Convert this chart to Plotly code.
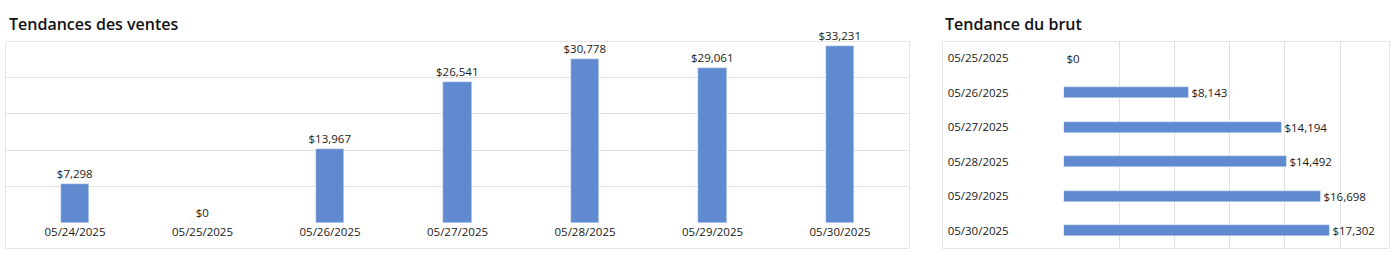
import plotly.graph_objects as go

W, H = 1392, 254

sales_dates = ["05/24/2025", "05/25/2025", "05/26/2025", "05/27/2025",
               "05/28/2025", "05/29/2025", "05/30/2025"]
sales_values = [7298, 0, 13967, 26541, 30778, 29061, 33231]

gross_dates = ["05/25/2025", "05/26/2025", "05/27/2025",
               "05/28/2025", "05/29/2025", "05/30/2025"]
gross_values = [0, 8143, 14194, 14492, 16698, 17302]

BAR = "#5f8ad0"
GRID = "#e1e1e1"
FONT = "Open Sans"
TXT = "#1a1a1a"
FS = 11.5


def px_x(p):
    return p / W


def px_y(p):
    return 1 - p / H


def money(v):
    return "${:,}".format(v)


fig = go.Figure()

fig.add_trace(go.Bar(
    x=sales_dates, y=sales_values,
    text=[money(v) for v in sales_values],
    textposition="outside", cliponaxis=False, constraintext="none",
    textfont=dict(size=FS, color=TXT, family=FONT),
    marker=dict(color=BAR), width=0.22,
    xaxis="x", yaxis="y", showlegend=False,
))

fig.add_trace(go.Bar(
    y=gross_dates, x=gross_values, orientation="h",
    text=[money(v) for v in gross_values],
    textposition="outside", cliponaxis=False, constraintext="none",
    textfont=dict(size=FS, color=TXT, family=FONT),
    marker=dict(color=BAR), width=0.32,
    xaxis="x2", yaxis="y2", showlegend=False,
))

ystep = 6830
xstep = 3594

fig.update_layout(
    width=W, height=H,
    margin=dict(l=0, r=0, t=0, b=0),
    paper_bgcolor="white", plot_bgcolor="rgba(0,0,0,0)",
    font=dict(family=FONT, size=FS, color=TXT),
    xaxis=dict(domain=[px_x(5), px_x(909)], anchor="y",
               range=[-0.549, len(sales_dates) - 1 + 0.541],
               showgrid=False, zeroline=False, showline=False,
               ticks="", tickfont=dict(size=FS, color=TXT, family=FONT),
               fixedrange=True),
    yaxis=dict(domain=[px_y(223), px_y(41)], anchor="x",
               range=[0, ystep * 5], tickvals=[ystep * i for i in range(5)],
               showticklabels=False, showgrid=True, gridcolor=GRID,
               gridwidth=1, zeroline=False, showline=False),
    xaxis2=dict(domain=[px_x(1063.7), px_x(1389)], anchor="y2",
                range=[0, 21140], tickvals=[xstep * i for i in range(6)],
                showticklabels=False, showgrid=True, gridcolor=GRID,
                gridwidth=1, zeroline=False, showline=False),
    yaxis2=dict(domain=[px_y(248), px_y(41)], anchor="x2",
                autorange="reversed", showgrid=False, zeroline=False,
                showline=False, ticks="", ticklabelstandoff=54,
                tickfont=dict(size=FS, color=TXT, family=FONT)),
    shapes=[
        dict(type="rect", xref="paper", yref="paper",
             x0=px_x(5.5), x1=px_x(909.5), y0=px_y(248.5), y1=px_y(41.5),
             line=dict(color="#e6e6e6", width=1), fillcolor="rgba(0,0,0,0)",
             layer="below"),
        dict(type="rect", xref="paper", yref="paper",
             x0=px_x(942.5), x1=px_x(1389.5), y0=px_y(248.5), y1=px_y(41.5),
             line=dict(color="#e6e6e6", width=1), fillcolor="rgba(0,0,0,0)",
             layer="below"),
    ],
    annotations=[
        dict(text="Tendances des ventes", xref="paper", yref="paper",
             x=px_x(7), y=px_y(24), xanchor="left", yanchor="middle",
             showarrow=False,
             font=dict(size=16, color="#111111", family=FONT, weight=600)),
        dict(text="Tendance du brut", xref="paper", yref="paper",
             x=px_x(943), y=px_y(24), xanchor="left", yanchor="middle",
             showarrow=False,
             font=dict(size=16, color="#111111", family=FONT, weight=600)),
    ],
    bargap=0,
)

fig.write_html("out.html")
